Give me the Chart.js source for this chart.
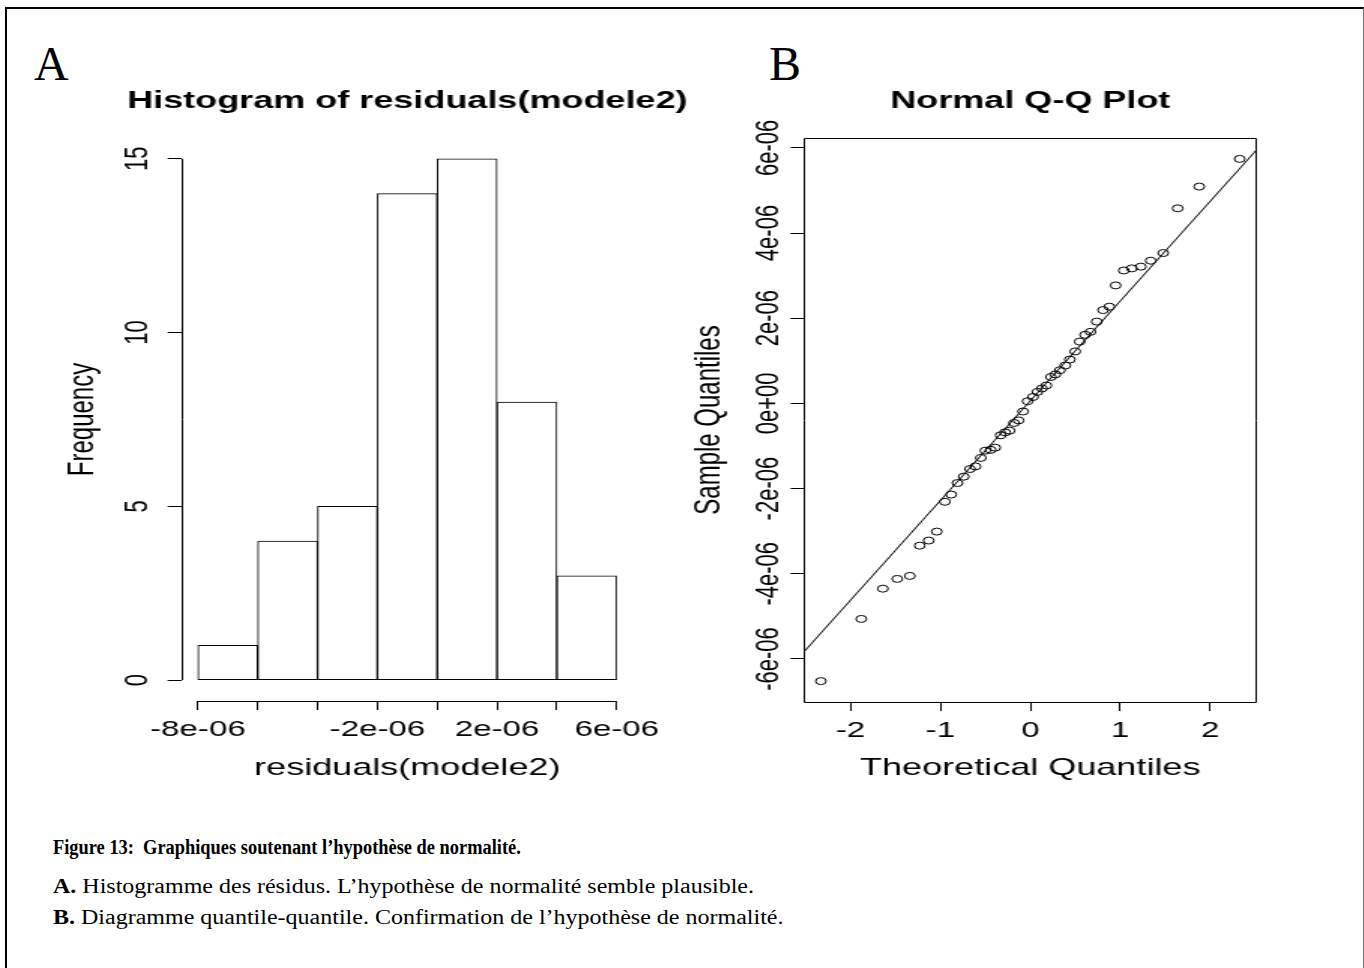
<!DOCTYPE html>
<html>
<head>
<meta charset="utf-8">
<title>Figure 13</title>
<script src="https://cdn.jsdelivr.net/npm/chart.js@4.4.1/dist/chart.umd.min.js"></script>
<style>
  html, body { margin: 0; padding: 0; background: #fff; }
  body { width: 1364px; height: 968px; position: relative; overflow: hidden; }
  .frame { position: absolute; left: 5px; top: 7px; width: 1356px; height: 990px; border-left: 2px solid #000; border-top: 2px solid #000; border-right: 1px solid #777; }
  .letter { position: absolute; font-family: 'Liberation Serif', 'Times New Roman', serif; font-size: 48px; line-height: 1; }
  canvas { position: absolute; }
  .caption { position: absolute; left: 53px; font-family: 'Liberation Serif', 'Times New Roman', serif; font-size: 20px; line-height: 1; white-space: nowrap; transform-origin: 0 0; }
</style>
</head>
<body>
<div class="frame"></div>
<div class="letter" style="left:34px; top:40px">A</div>
<div class="letter" style="left:769px; top:40px">B</div>
<!-- the R plots were stretched 1.5x horizontally in the document, so the canvases are too -->
<canvas id="histChart" width="467" height="760" style="left:0; top:50px; width:700.5px; height:760px"></canvas>
<canvas id="qqChart" width="463" height="760" style="left:670px; top:50px; width:694.5px; height:760px"></canvas>
<div class="caption" style="top:837px; transform:scaleX(0.92)"><b>Figure 13:&nbsp; Graphiques soutenant l’hypothèse de normalité.</b></div>
<div class="caption" style="top:876px; transform:scaleX(1.2)"><b>A.</b> Histogramme des résidus. L’hypothèse de normalité semble plausible.</div>
<div class="caption" style="top:907px; transform:scaleX(1.2)"><b>B.</b> Diagramme quantile-quantile. Confirmation de l’hypothèse de normalité.</div>
<script>
// Histogram data
const histBreaks = [-8e-6, -6e-6, -4e-6, -2e-6, 0, 2e-6, 4e-6, 6e-6];
const histCounts = [1, 4, 5, 14, 15, 8, 3];
const histXLabels = ['-8e-06', '', '', '-2e-06', '', '2e-06', '', '6e-06'];
const histYTicks = [0, 5, 10, 15];
const histYLabels = ['0', '5', '10', '15'];

// Q-Q plot data (sorted residuals against normal quantiles)
const qqTheoretical = [-2.33, -1.88, -1.64, -1.48, -1.34, -1.23, -1.13, -1.04, -0.95, -0.88,
  -0.81, -0.74, -0.67, -0.61, -0.55, -0.50, -0.44, -0.39, -0.33, -0.28,
  -0.23, -0.18, -0.13, -0.08, -0.03, 0.03, 0.08, 0.13, 0.18, 0.23,
  0.28, 0.33, 0.39, 0.44, 0.50, 0.55, 0.61, 0.67, 0.74, 0.81,
  0.88, 0.95, 1.04, 1.13, 1.23, 1.34, 1.48, 1.64, 1.88, 2.33];
const qqSample = [-6.52e-6, -5.06e-6, -4.35e-6, -4.12e-6, -4.05e-6, -3.34e-6, -3.22e-6, -3.01e-6, -2.31e-6, -2.14e-6,
  -1.87e-6, -1.72e-6, -1.54e-6, -1.48e-6, -1.28e-6, -1.11e-6, -1.09e-6, -1.04e-6, -0.75e-6, -0.68e-6,
  -0.64e-6, -0.46e-6, -0.40e-6, -0.19e-6, 0.05e-6, 0.15e-6, 0.27e-6, 0.35e-6, 0.42e-6, 0.62e-6,
  0.68e-6, 0.78e-6, 0.89e-6, 1.03e-6, 1.22e-6, 1.45e-6, 1.61e-6, 1.68e-6, 1.92e-6, 2.19e-6,
  2.27e-6, 2.77e-6, 3.12e-6, 3.17e-6, 3.21e-6, 3.35e-6, 3.53e-6, 4.58e-6, 5.09e-6, 5.74e-6];
const qqXTicks = [-2, -1, 0, 1, 2];
const qqXLabels = ['-2', '-1', '0', '1', '2'];
const qqYTicks = [-6e-6, -4e-6, -2e-6, 0, 2e-6, 4e-6, 6e-6];
const qqYLabels = ['-6e-06', '-4e-06', '-2e-06', '0e+00', '2e-06', '4e-06', '6e-06'];
const qqLineIntercept = 0.06e-6;
const qqLineSlope = 2.34e-6;

const FONT = "'Liberation Sans', Arial, sans-serif";
Chart.defaults.font.family = FONT;
Chart.defaults.color = '#000';

// R pads axis ranges by 4% on each side
function rRange(lo, hi) {
  const d = (hi - lo) * 0.04;
  return [lo - d, hi + d];
}

// axis lines, rotated y labels and main title drawn the way R does them
const rStyle = {
  id: 'rStyle',
  afterDraw(chart, args, opts) {
    const { ctx, chartArea: a, scales: { x, y } } = chart;
    ctx.save();
    ctx.strokeStyle = '#000';
    ctx.lineWidth = 1;
    ctx.beginPath();
    if (opts.box) {
      ctx.rect(Math.round(a.left) + 0.5, Math.round(a.top) + 0.5,
        Math.round(a.right - a.left), Math.round(a.bottom - a.top));
    } else {
      const yb = Math.round(a.bottom) + 0.5;
      const xl = Math.round(a.left) + 0.5;
      ctx.moveTo(x.getPixelForValue(opts.xTicks[0]), yb);
      ctx.lineTo(x.getPixelForValue(opts.xTicks[opts.xTicks.length - 1]), yb);
      ctx.moveTo(xl, y.getPixelForValue(opts.yTicks[0]));
      ctx.lineTo(xl, y.getPixelForValue(opts.yTicks[opts.yTicks.length - 1]));
    }
    ctx.stroke();

    ctx.fillStyle = '#000';
    ctx.font = '22px ' + FONT;
    ctx.textAlign = 'center';
    ctx.textBaseline = 'middle';
    opts.yTicks.forEach((v, i) => {
      ctx.save();
      ctx.translate(a.left - opts.labelGap, y.getPixelForValue(v));
      ctx.rotate(-Math.PI / 2);
      ctx.fillText(opts.yLabels[i], 0, 0);
      ctx.restore();
    });

    ctx.font = 'bold 24px ' + FONT;
    ctx.fillText(opts.title, (a.left + a.right) / 2, 51);
    ctx.restore();
  }
};

const tickGrid = { offset: false, drawOnChartArea: false, drawTicks: true, tickLength: 9, color: '#000', lineWidth: 1 };

// Histogram
const histX = rRange(histBreaks[0], histBreaks[histBreaks.length - 1]);
const histY = rRange(0, Math.max(...histCounts));

new Chart(document.getElementById('histChart'), {
  type: 'bar',
  data: {
    datasets: [{
      data: histCounts.map((c, i) => ({ x: (histBreaks[i] + histBreaks[i + 1]) / 2, y: c })),
      backgroundColor: '#fff',
      borderColor: '#000',
      borderWidth: 1,
      borderSkipped: false,
      barPercentage: 1,
      categoryPercentage: 1,
    }],
  },
  options: {
    responsive: false,
    animation: false,
    events: [],
    layout: { padding: { top: 88, right: 45, left: 0, bottom: 0 } },
    plugins: {
      legend: { display: false },
      tooltip: { enabled: false },
      rStyle: { title: 'Histogram of residuals(modele2)', xTicks: histBreaks, yTicks: histYTicks, yLabels: histYLabels, labelGap: 29 },
    },
    scales: {
      x: {
        type: 'linear', min: histX[0], max: histX[1], offset: false,
        afterBuildTicks: (s) => { s.ticks = histBreaks.map((v) => ({ value: v })); },
        afterFit: (s) => { s.height = 109; },
        grid: tickGrid,
        border: { display: false },
        ticks: { autoSkip: false, maxRotation: 0, padding: 7, font: { size: 22 }, callback: (v, i) => histXLabels[i] },
        title: { display: true, text: 'residuals(modele2)', font: { size: 24 }, padding: { top: 0, bottom: 27 } },
      },
      y: {
        type: 'linear', min: histY[0], max: histY[1],
        afterBuildTicks: (s) => { s.ticks = histYTicks.map((v) => ({ value: v })); },
        afterFit: (s) => { s.width = 120.67; },
        grid: tickGrid,
        border: { display: false },
        ticks: { display: false },
        title: { display: true, text: 'Frequency', font: { size: 24 }, padding: { top: 40.9, bottom: 0 } },
      },
    },
  },
  plugins: [rStyle],
});

// Normal Q-Q plot
const qqX = rRange(Math.min(...qqTheoretical), Math.max(...qqTheoretical));
const qqY = rRange(Math.min(...qqSample), Math.max(...qqSample));

new Chart(document.getElementById('qqChart'), {
  type: 'scatter',
  data: {
    datasets: [
      {
        data: qqTheoretical.map((t, i) => ({ x: t, y: qqSample[i] })),
        pointStyle: 'circle',
        pointRadius: 3.5,
        pointBorderWidth: 1,
        borderColor: '#000',
        backgroundColor: 'rgba(0,0,0,0)',
        showLine: false,
      },
      {
        type: 'line',
        data: qqX.map((t) => ({ x: t, y: qqLineIntercept + qqLineSlope * t })),
        borderColor: '#000',
        borderWidth: 1,
        pointRadius: 0,
        fill: false,
      },
    ],
  },
  options: {
    responsive: false,
    animation: false,
    events: [],
    layout: { padding: { top: 88, right: 72.33, left: 0, bottom: 0 } },
    plugins: {
      legend: { display: false },
      tooltip: { enabled: false },
      rStyle: { box: true, title: 'Normal Q-Q Plot', xTicks: qqXTicks, yTicks: qqYTicks, yLabels: qqYLabels, labelGap: 23 },
    },
    scales: {
      x: {
        type: 'linear', min: qqX[0], max: qqX[1],
        afterBuildTicks: (s) => { s.ticks = qqXTicks.map((v) => ({ value: v })); },
        afterFit: (s) => { s.height = 108; },
        grid: tickGrid,
        border: { display: false },
        ticks: { autoSkip: false, maxRotation: 0, padding: 7, font: { size: 22 }, callback: (v, i) => qqXLabels[i] },
        title: { display: true, text: 'Theoretical Quantiles', font: { size: 24 }, padding: { top: 0, bottom: 27 } },
      },
      y: {
        type: 'linear', min: qqY[0], max: qqY[1],
        afterBuildTicks: (s) => { s.ticks = qqYTicks.map((v) => ({ value: v })); },
        afterFit: (s) => { s.width = 89.33; },
        grid: tickGrid,
        border: { display: false },
        ticks: { display: false },
        title: { display: true, text: 'Sample Quantiles', font: { size: 24 }, padding: { top: 12, bottom: 0 } },
      },
    },
  },
  plugins: [rStyle],
});
</script>
</body>
</html>
